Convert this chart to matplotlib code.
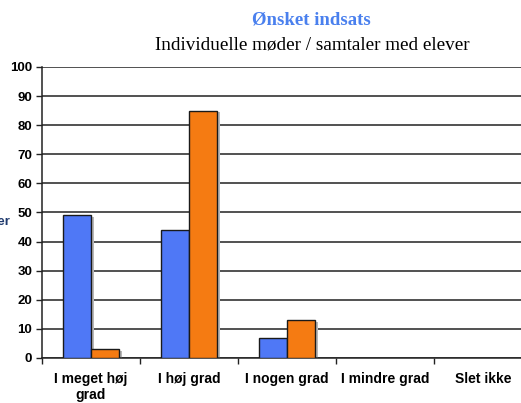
import numpy as np
import matplotlib.pyplot as plt

categories = ["I meget høj\ngrad", "I høj grad", "I nogen grad", "I mindre grad", "Slet ikke"]
serie_blue = [49, 44, 7, 0, 0]
serie_orange = [3, 85, 13, 0, 0]
yticks = [0, 10, 20, 30, 40, 50, 60, 70, 80, 90, 100]

blue = "#4f78f6"
orange = "#f57b12"

fig = plt.figure(figsize=(5.21, 4.03), dpi=100)
# axes run past the right edge, like in the cropped original
ax = fig.add_axes([42/521, 1-358/403, 490/521, 291/403])

x = np.arange(len(categories))
w = 0.285
shadow_dx = 0.035

for vals, off, col in [(serie_blue, -w/2, blue), (serie_orange, w/2, orange)]:
    vals = np.array(vals)
    show = vals > 0
    # soft grey drop shadow
    ax.bar(x[show] + off + shadow_dx, vals[show] - 0.6, w, bottom=0, color="#b8b8b8",
           zorder=2, linewidth=0)
    ax.bar(x[show] + off, vals[show], w, color=col, edgecolor="#1a1a1a",
           linewidth=1.0, zorder=3)

ax.set_xlim(-0.5, len(categories) - 0.5)
ax.set_ylim(0, 100)
ax.set_yticks(yticks)
ax.set_yticklabels([str(v) for v in yticks], fontsize=9.5, fontweight="bold",
                   family="Liberation Sans")
ax.yaxis.grid(True, color="#222222", linewidth=1.1, zorder=0)
ax.set_axisbelow(True)

ax.set_xticks(x)
ax.set_xticklabels(categories, fontsize=10, fontweight="bold", family="Liberation Sans",
                   linespacing=1.15)
ax.tick_params(axis="x", length=0, pad=10)
ax.set_xticks(np.arange(-0.5, len(categories)), minor=True)
ax.tick_params(axis="x", which="minor", length=4, width=1, color="#222222")
ax.tick_params(axis="y", length=4, width=1, color="#222222", pad=3)

for s in ["top", "right"]:
    ax.spines[s].set_visible(False)
ax.spines["left"].set_color("#222222")
ax.spines["bottom"].set_color("#222222")
ax.spines["left"].set_linewidth(1.1)
ax.spines["bottom"].set_linewidth(1.1)

fig.text(311/521, 1-20/403, "Ønsket indsats", ha="center", va="center",
         fontsize=13.5, fontweight="bold", color="#4a80ee", family="Liberation Serif")
fig.text(312/521, 1-45/403, "Individuelle møder / samtaler med elever", ha="center",
         va="center", fontsize=13.8, color="black", family="Liberation Serif")
fig.text(10/521, 1-222/403, "Besvarelser", ha="right", va="center", fontsize=9.5,
         fontweight="bold", color="#1f3a6e", family="Liberation Sans")

fig.savefig("out.png", dpi=100)
